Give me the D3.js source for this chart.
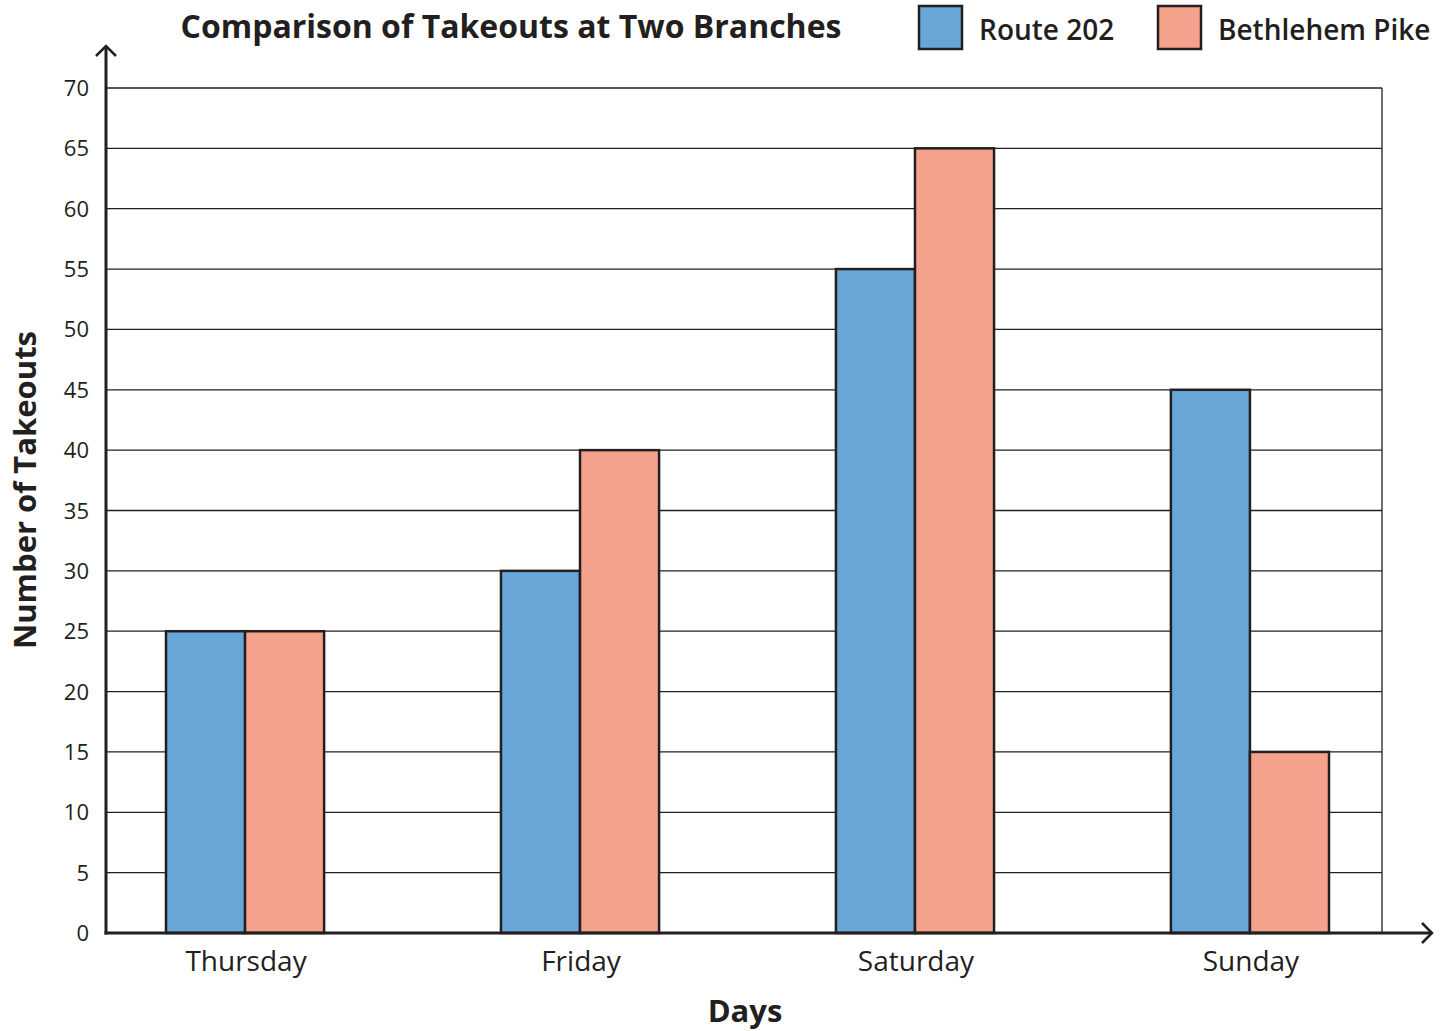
<!DOCTYPE html>
<html>
<head>
<meta charset="utf-8">
<script src="https://cdn.jsdelivr.net/npm/d3@7"></script>
<style>
  body { margin: 0; background: #fff; }
  text { font-family: "Open Sans", "Noto Sans", sans-serif; fill: #231f20; }
</style>
</head>
<body>
<div id="chart"></div>
<script>
const days = ["Thursday", "Friday", "Saturday", "Sunday"];
const series = ["Route 202", "Bethlehem Pike"];
const route202 = [25, 30, 55, 45];
const bethlehemPike = [25, 40, 65, 15];
const yTicks = [0, 5, 10, 15, 20, 25, 30, 35, 40, 45, 50, 55, 60, 65, 70];
const colors = ["#68a6d8", "#f4a28b"];

const width = 1448;
const height = 1031;
const ink = "#231f20";

// plot frame
const plotLeft = 106, plotRight = 1382, plotTop = 88, plotBottom = 933;

const svg = d3.select("#chart")
    .append("svg")
    .attr("width", width)
    .attr("height", height);

const y = d3.scaleLinear()
    .domain([0, 70])
    .range([plotBottom, plotTop]);

const x = d3.scaleBand()
    .domain(days)
    .range([166, 1329])
    .paddingInner(0.528)
    .paddingOuter(0);

const xSub = d3.scaleBand()
    .domain(series)
    .range([0, x.bandwidth()]);

// horizontal gridlines
svg.append("g")
    .selectAll("line")
    .data(yTicks.filter(d => d > 0))
    .enter()
    .append("line")
    .attr("x1", plotLeft)
    .attr("x2", plotRight)
    .attr("y1", d => y(d))
    .attr("y2", d => y(d))
    .attr("stroke", ink)
    .attr("stroke-width", 1.3);

// right border
svg.append("line")
    .attr("x1", plotRight).attr("x2", plotRight)
    .attr("y1", plotTop).attr("y2", plotBottom)
    .attr("stroke", ink)
    .attr("stroke-width", 1.3);

// bars
const rows = days.map((d, i) => ({ day: d, values: [route202[i], bethlehemPike[i]] }));

svg.append("g")
    .selectAll("g")
    .data(rows)
    .enter()
    .append("g")
    .attr("transform", d => `translate(${x(d.day)},0)`)
    .selectAll("rect")
    .data(d => d.values.map((v, j) => ({ key: series[j], value: v, j })))
    .enter()
    .append("rect")
    .attr("x", d => xSub(d.key))
    .attr("y", d => y(d.value))
    .attr("width", xSub.bandwidth())
    .attr("height", d => plotBottom - y(d.value))
    .attr("fill", d => colors[d.j])
    .attr("stroke", ink)
    .attr("stroke-width", 2.5);

// y tick labels
svg.append("g")
    .selectAll("text")
    .data(yTicks)
    .enter()
    .append("text")
    .attr("x", 89)
    .attr("y", d => y(d) + 8)
    .attr("text-anchor", "end")
    .style("font-size", "22px")
    .text(d => d);

// x tick labels
svg.append("g")
    .selectAll("text")
    .data(days)
    .enter()
    .append("text")
    .attr("x", d => x(d) + x.bandwidth() / 2 + 1)
    .attr("y", 971)
    .attr("text-anchor", "middle")
    .style("font-size", "28px")
    .text(d => d);

// axes with arrows
svg.append("line")
    .attr("x1", plotLeft).attr("x2", plotLeft)
    .attr("y1", plotBottom + 1.5).attr("y2", 46)
    .attr("stroke", ink).attr("stroke-width", 3);
svg.append("path")
    .attr("d", `M${plotLeft - 10},${56} L${plotLeft},${46} L${plotLeft + 10},${56}`)
    .attr("fill", "none").attr("stroke", ink).attr("stroke-width", 2.5);

svg.append("line")
    .attr("x1", plotLeft - 1.5).attr("x2", 1432)
    .attr("y1", plotBottom).attr("y2", plotBottom)
    .attr("stroke", ink).attr("stroke-width", 3);
svg.append("path")
    .attr("d", `M${1422},${plotBottom - 10} L${1432},${plotBottom} L${1422},${plotBottom + 10}`)
    .attr("fill", "none").attr("stroke", ink).attr("stroke-width", 2.5);

// titles
svg.append("text")
    .attr("x", 511)
    .attr("y", 38)
    .attr("text-anchor", "middle")
    .style("font-size", "32px")
    .style("font-weight", "bold")
    .text("Comparison of Takeouts at Two Branches");

svg.append("text")
    .attr("x", 745)
    .attr("y", 1022)
    .attr("text-anchor", "middle")
    .style("font-size", "31px")
    .style("font-weight", "bold")
    .text("Days");

svg.append("text")
    .attr("transform", "translate(36,490) rotate(-90)")
    .attr("text-anchor", "middle")
    .style("font-size", "31px")
    .style("font-weight", "bold")
    .text("Number of Takeouts");

// legend
const legendX = [919, 1158];
const legend = svg.append("g")
    .selectAll("g")
    .data(series)
    .enter()
    .append("g")
    .attr("transform", (d, i) => `translate(${legendX[i]},6)`);

legend.append("rect")
    .attr("width", 43)
    .attr("height", 43)
    .attr("fill", (d, i) => colors[i])
    .attr("stroke", ink)
    .attr("stroke-width", 2.5);

legend.append("text")
    .attr("x", 60)
    .attr("y", 34)
    .style("font-size", "28px")
    .style("font-weight", "600")
    .text(d => d);
</script>
</body>
</html>
